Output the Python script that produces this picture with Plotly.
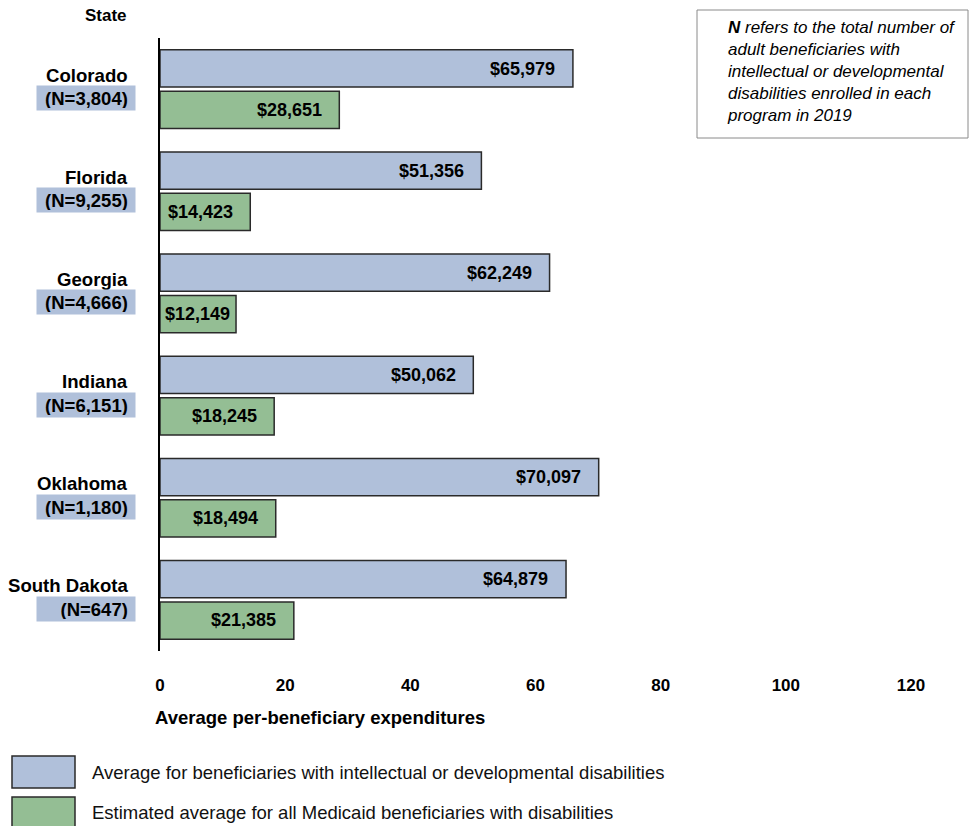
import plotly.graph_objects as go

# ---------------- data ----------------
states = ["Colorado", "Florida", "Georgia", "Indiana", "Oklahoma", "South Dakota"]
n_enrolled = ["3,804", "9,255", "4,666", "6,151", "1,180", "647"]
idd_avg = [65979, 51356, 62249, 50062, 70097, 64879]
all_dis_avg = [28651, 14423, 12149, 18245, 18494, 21385]
x_ticks = [0, 20, 40, 60, 80, 100, 120]
series_names = [
    "Average for beneficiaries with intellectual or developmental disabilities",
    "Estimated average for all Medicaid beneficiaries with disabilities",
]
axis_title = "Average per-beneficiary expenditures"
y_header = "State"
note_text = ("<b>N</b> refers to the total number of<br>adult beneficiaries with<br>"
             "intellectual or developmental<br>disabilities enrolled in each<br>program in 2019")

# ---------------- style ----------------
FONT = "Liberation Sans, Arial, sans-serif"
BLUE = "#B0C0DA"
GREEN = "#94BE94"
EDGE = "#2a2a2a"

fig = go.Figure()
for vals, col, name in [(idd_avg, BLUE, series_names[0]), (all_dis_avg, GREEN, series_names[1])]:
    fig.add_bar(
        y=states, x=[v / 1000 for v in vals], orientation="h", name=name,
        marker=dict(color=col, line=dict(color=EDGE, width=1.5)),
        showlegend=False, hoverinfo="skip",
    )

ann = []
# value labels on bars
for vals, ysh in [(idd_avg, 20.5), (all_dis_avg, -20.5)]:
    for s, v in zip(states, vals):
        ann.append(dict(
            x=max(v / 1000 - 8, 6), y=s, xref="x", yref="y", yshift=ysh,
            text=f"<b>${v:,}</b>", showarrow=False, xanchor="center", yanchor="middle",
            font=dict(family=FONT, size=18, color="black"),
        ))
# state names and N boxes
for s, n in zip(states, n_enrolled):
    ann.append(dict(
        x=0, y=s, xref="paper", yref="y", xshift=-30, yshift=14,
        text=f"<b>{s}</b>", showarrow=False, xanchor="right", yanchor="middle",
        font=dict(family=FONT, size=18.6, color="black"),
    ))
    ann.append(dict(
        x=0, y=s, xref="paper", yref="y", xshift=-24, yshift=-9,
        text=f"<b>(N={n})</b>&nbsp;", showarrow=False, xanchor="right", yanchor="middle",
        align="right", width=94, height=20, borderpad=2, bgcolor=BLUE,
        font=dict(family=FONT, size=18.5, color="black"),
    ))
# header
ann.append(dict(x=0, y=1, xref="paper", yref="paper", xshift=-31, yshift=23,
                text=f"<b>{y_header}</b>", showarrow=False, xanchor="right", yanchor="middle",
                font=dict(family=FONT, size=17, color="black")))
# axis title
ann.append(dict(x=0, y=0, xref="paper", yref="paper", xshift=-7, yshift=-66,
                text=f"<b>{axis_title}</b>", showarrow=False, xanchor="left", yanchor="middle",
                font=dict(family=FONT, size=18.5, color="black")))
# legend text
for i, name in enumerate(series_names):
    ann.append(dict(x=0, y=0, xref="paper", yref="paper", xshift=-70, yshift=-121 - 40 * i,
                    text=name, showarrow=False, xanchor="left", yanchor="middle",
                    font=dict(family=FONT, size=18.5, color="#111111")))
# note text
ann.append(dict(x=1, y=1, xref="paper", yref="paper", xshift=-186, yshift=22,
                text=f"<i>{note_text}</i>", showarrow=False, xanchor="left", yanchor="top",
                align="left", font=dict(family=FONT, size=17, color="black")))

shapes = [
    # legend swatches
    dict(type="rect", xref="paper", yref="paper", xsizemode="pixel", ysizemode="pixel",
         xanchor=0, yanchor=0, x0=-148, x1=-85, y0=-105, y1=-137,
         fillcolor=BLUE, line=dict(color=EDGE, width=1.5)),
    dict(type="rect", xref="paper", yref="paper", xsizemode="pixel", ysizemode="pixel",
         xanchor=0, yanchor=0, x0=-148, x1=-85, y0=-146, y1=-180,
         fillcolor=GREEN, line=dict(color=EDGE, width=1.5)),
    # note box
    dict(type="rect", xref="paper", yref="paper", xsizemode="pixel", ysizemode="pixel",
         xanchor=1, yanchor=1, x0=-214, x1=57, y0=28, y1=-100,
         fillcolor="rgba(0,0,0,0)", line=dict(color="#8a8a8a", width=1)),
]

fig.update_layout(
    width=975, height=826, autosize=False,
    margin=dict(l=160, r=64, t=38, b=175),
    paper_bgcolor="white", plot_bgcolor="white",
    barmode="group", bargap=0.19, bargroupgap=0.1,
    font=dict(family=FONT, color="black"),
    annotations=ann, shapes=shapes,
    xaxis=dict(range=[0, 120], tickvals=x_ticks, ticktext=[str(t) for t in x_ticks],
               showgrid=False, zeroline=False, showline=False, ticks="",
               ticklabelstandoff=22,
               tickfont=dict(family=FONT, size=17, color="black", weight="bold")),
    yaxis=dict(type="category", autorange="reversed", showticklabels=False,
               showgrid=False, zeroline=False, showline=True, linecolor="black",
               linewidth=2, ticks=""),
)

fig.write_html("out.html")
